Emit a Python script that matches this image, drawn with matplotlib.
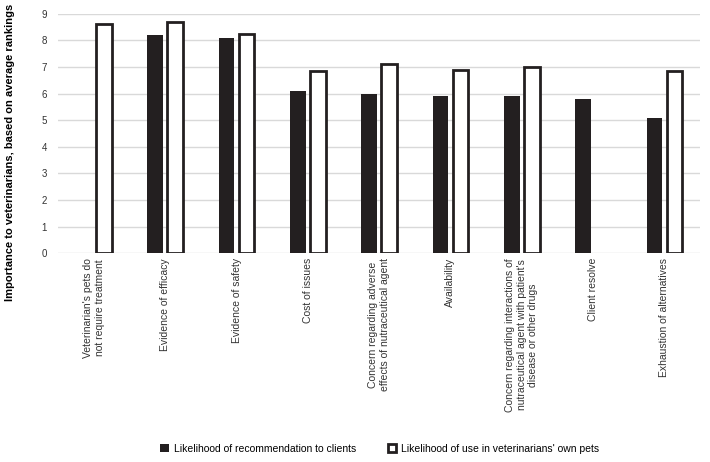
import matplotlib
matplotlib.use("Agg")
import matplotlib.pyplot as plt
import numpy as np

plt.rcParams['font.family'] = ['Liberation Sans', 'DejaVu Sans']

# categories and average rankings
categories = [
    "Veterinarian's pets do\nnot require treatment",
    "Evidence of efficacy",
    "Evidence of safety",
    "Cost of issues",
    "Concern regarding adverse\neffects of nutraceutical agent",
    "Availability",
    "Concern regarding interactions of\nnutraceutical agent with patient's\ndisease or other drugs",
    "Client resolve",
    "Exhaustion of alternatives",
]
clients = [np.nan, 8.2, 8.1, 6.1, 6.0, 5.9, 5.9, 5.8, 5.1]
own_pets = [8.6, 8.7, 8.25, 6.85, 7.1, 6.9, 7.0, np.nan, 6.85]

series_names = ["Likelihood of recommendation to clients",
                "Likelihood of use in veterinarians' own pets"]

fig = plt.figure(figsize=(7.1, 4.62), dpi=100)
ax = fig.add_axes([0.082, 0.452, 0.904, 0.518])

x = np.arange(len(categories))
w = 0.22
off = 0.14
ax.bar(x - off, clients, w, color='#231f20', label=series_names[0], zorder=3)
ax.bar(x + off, own_pets, w, color='white', edgecolor='#231f20', linewidth=2,
       label=series_names[1], zorder=3)

ax.set_xlim(-0.5, len(categories) - 0.5)
ax.set_ylim(0, 9)
ax.set_yticks(range(10))
ax.grid(axis='y', color='#d9d9d9', linewidth=1, zorder=0)
for s in ax.spines.values():
    s.set_visible(False)
ax.tick_params(axis='both', length=0, labelsize=7, colors='#333333')
ax.tick_params(axis='y', pad=8)
ax.set_xticks(x)
ax.set_xticklabels(categories, rotation=90, va='top', ha='center',
                   multialignment='center', fontsize=7.5)

ax.set_ylabel("Importance to veterinarians, based on average rankings",
              fontsize=8, fontweight='bold')
ax.yaxis.set_label_coords(-0.067, 0.42)

handles, labels = ax.get_legend_handles_labels()
fig.legend(handles, labels, loc='center', bbox_to_anchor=(0.535, 0.028), ncol=2,
           frameon=False, fontsize=7.5, handlelength=0.8, handleheight=0.8,
           columnspacing=3, handletextpad=0.5)

fig.savefig("out.png", dpi=100)
